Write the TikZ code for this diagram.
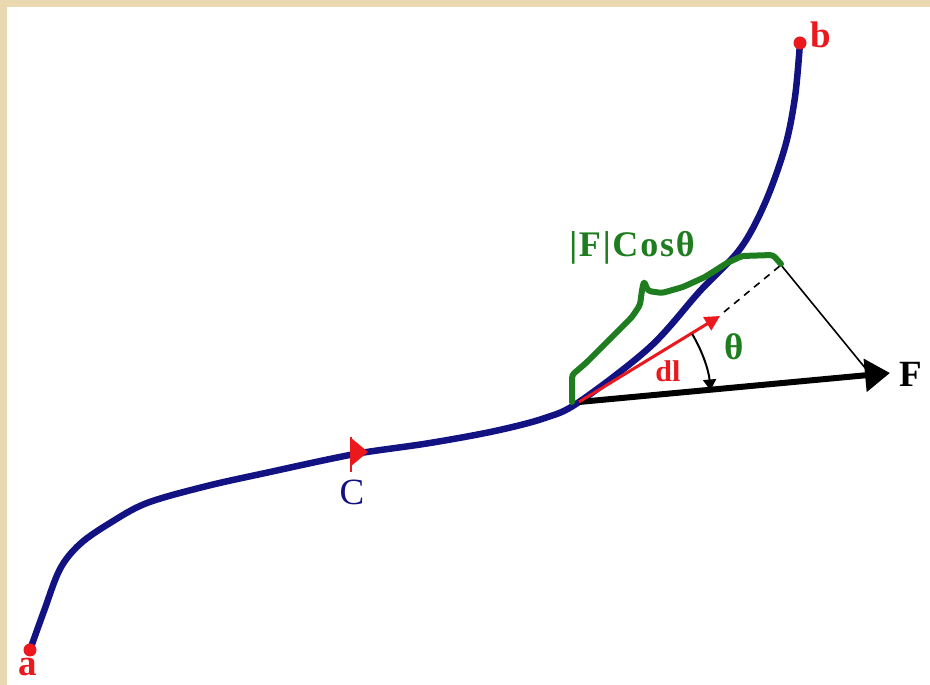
\documentclass[tikz,border=0pt]{standalone}
\usepackage{fontspec}
\setmainfont{Liberation Serif}
\usetikzlibrary{arrows.meta,calc}
\definecolor{parch}{RGB}{233,216,176}
\definecolor{pathblue}{RGB}{18,18,130}
\definecolor{ptred}{RGB}{235,25,30}
\definecolor{brgreen}{RGB}{30,125,30}
\tikzset{
  lbl/.style={anchor=base, inner sep=0pt, font=\fontsize{37}{40}\selectfont\bfseries},
  curve/.style={draw=pathblue, line width=6.5pt, line cap=round, line join=round},
  endpt/.style={fill=ptred},
}
\begin{document}
\begin{tikzpicture}[x=1pt,y=1pt]
\useasboundingbox (0,0) rectangle (930,685);
\clip (0,0) rectangle (930,685);
\fill[parch] (0,0) rectangle (930,685);
\fill[white] (7,0) rectangle (930,678);
% key points
\coordinate (a) at (30,35);
\coordinate (b) at (800,642);
\coordinate (P) at (579,283);
\coordinate (Ftip) at (890,312);
\coordinate (dltip) at (720,369);
\coordinate (dashA) at (724,373);
\coordinate (proj) at (781,420);
\coordinate (Ffoot) at (866,316);
% path C
\draw[curve] plot[smooth, tension=0.55] coordinates {(30,35) (44,74) (60,116) (80,141) (110,162) (147,182) (207,199) (270,213) (330,226) (367,233) (430,242) (495,254) (545,267) (579,283) (650,338) (700,394) (740,436) (765,482) (785,538) (795,588) (800,642)};
% direction marker on C
\fill[ptred] (350,248) -- (368,233) -- (350,218) -- cycle;
\draw[ptred, line width=1.5pt] (351,248) -- (351,213);
% end points
\fill[endpt] (a) circle (6.5pt);
\fill[endpt] (b) circle (6.5pt);
% F vector
\draw[line width=6pt, -{Triangle[length=25pt,width=32pt]}] (P) -- (Ftip);
% projection lines
\draw[line width=1.6pt] (proj) -- (Ffoot);
\draw[line width=1.6pt, dash pattern=on 7pt off 6pt] (dashA) -- (proj);
% dl vector
\draw[ptred, line width=3pt, -{Triangle[length=15pt,width=15pt]}] (P) -- (dltip);
% angle arc
\draw[line width=2pt, -{Triangle[length=11pt,width=13pt]}] ($(P)+(31:132)$) arc (31:5:132);
% green brace
\draw[brgreen, line width=6pt, line join=round, line cap=round, rounded corners=3pt]
  (572,283) -- (572,310) -- (586,322) -- (632,368) -- (640,380) -- (642,395) -- (644,404) -- (648,394) -- (662,392) -- (683,398) -- (705,408) -- (727,422) -- (742,429) -- (773,430) -- (781,421);
% labels
\node[lbl, text=ptred] (la) at (28,9) {a};
\node[lbl, text=ptred] (lb) at (821,637) {b};
\node[lbl, font=\fontsize{37}{40}\selectfont, text=pathblue] (lC) at (352,180) {C};
\node[lbl] (lF) at (911,298) {F};
\node[lbl, text=brgreen] (lth) at (734,325) {θ};
\node[lbl, font=\fontsize{30}{32}\selectfont\bfseries, text=ptred] (ldl) at (668,303) {dl};
\node[lbl, text=brgreen, font=\fontsize{36}{38}\selectfont\bfseries\addfontfeature{LetterSpace=5}] (lcos) at (632,428) {|F|Cosθ};
\end{tikzpicture}
\end{document}
